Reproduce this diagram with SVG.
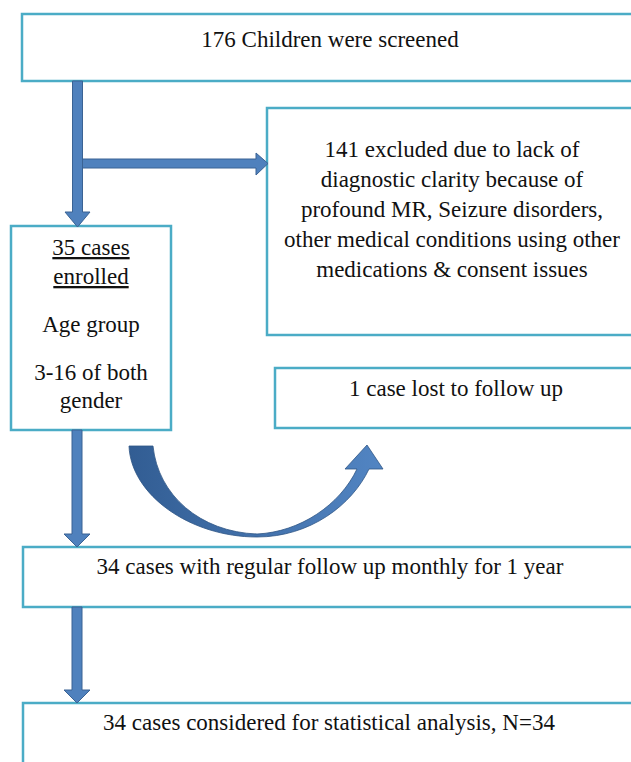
<svg xmlns="http://www.w3.org/2000/svg" width="631" height="762" viewBox="0 0 631 762">
<style>
.box{fill:#ffffff;stroke:#4bacc6;stroke-width:2.5}
.t{font-family:"Liberation Serif","Times New Roman",serif;font-size:23px;fill:#111;text-anchor:middle}
.u{text-decoration:underline}
.arr{fill:#4f81bd;stroke:#3a6394;stroke-width:1}
</style>
<defs>
<linearGradient id="cg" gradientUnits="userSpaceOnUse" x1="129" y1="0" x2="383" y2="0">
<stop offset="0" stop-color="#325d93"/>
<stop offset="1" stop-color="#5285c3"/>
</linearGradient>
</defs>
<rect width="631" height="762" fill="#ffffff"/>
<g id="screened">
<rect class="box" x="22" y="14" width="630" height="67"/>
<text class="t" x="330" y="47">176 Children were screened</text>
</g>
<g id="excluded">
<rect class="box" x="267" y="108" width="380" height="227"/>
<text class="t" x="452" y="157">141 excluded due to lack of</text>
<text class="t" x="452" y="187">diagnostic clarity because of</text>
<text class="t" x="452" y="217">profound MR, Seizure disorders,</text>
<text class="t" x="452" y="247">other medical conditions using other</text>
<text class="t" x="452" y="277">medications &amp; consent issues</text>
</g>
<g id="enrolled">
<rect class="box" x="11" y="226" width="160" height="204"/>
<text class="t u" x="91" y="255">35 cases</text>
<text class="t u" x="91" y="284">enrolled</text>
<text class="t" x="91" y="332">Age group</text>
<text class="t" x="91" y="380">3-16 of both</text>
<text class="t" x="91" y="408">gender</text>
</g>
<g id="lost">
<rect class="box" x="275" y="368" width="380" height="60"/>
<text class="t" x="456" y="396">1 case lost to follow up</text>
</g>
<g id="followup">
<rect class="box" x="23" y="547" width="630" height="60"/>
<text class="t" x="330" y="574">34 cases with regular follow up monthly for 1 year</text>
</g>
<g id="analysis">
<rect class="box" x="23" y="703" width="630" height="80"/>
<text class="t" x="329" y="730">34 cases considered for statistical analysis, N=34</text>
</g>
<g id="connectors">
<path class="arr" d="M72.5,81 L82.5,81 L82.5,212 L90,212 L77.5,227 L65,212 L72.5,212 Z"/>
<path class="arr" d="M82.5,159 L256,159 L256,153 L268,163.5 L256,175 L256,168 L82.5,168 Z"/>
<path class="arr" d="M72,430 L82,430 L82,534 L90,534 L77,547 L64,534 L72,534 Z"/>
<path class="arr" d="M72,607 L82,607 L82,690 L90,690 L77,703 L64,690 L72,690 Z"/>
<path fill="url(#cg)" stroke="#2f5585" stroke-width="0.8" d="M129,446 C131,495 190,537 257,537 C310,537 352,505 369,469 L383,469 L367,445 L345,469 L357,469 C340,505 300,532 257,534 C200,532 158,495 153,446 Z"/>
</g>
</svg>
